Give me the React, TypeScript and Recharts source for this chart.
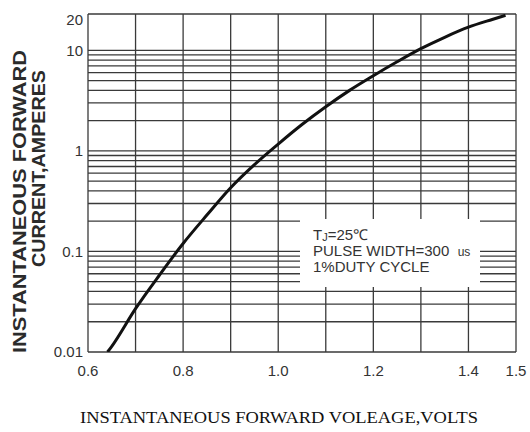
import { LineChart, Line, XAxis, YAxis, CartesianGrid, ReferenceLine } from "recharts";

// forward voltage (V) vs instantaneous forward current (A)
const voltage = [0.641, 0.65, 0.7, 0.75, 0.8, 0.85, 0.9, 0.95, 1.0, 1.05, 1.1, 1.15, 1.2, 1.25, 1.3, 1.35, 1.4, 1.45, 1.478];
const current = [0.01, 0.0114, 0.027, 0.058, 0.12, 0.23, 0.43, 0.73, 1.17, 1.83, 2.75, 4.0, 5.6, 7.7, 10.4, 13.5, 17.0, 20.3, 22.3];

const xTicks = [0.6, 0.8, 1.0, 1.2, 1.4, 1.5];
const xGrid = [0.6, 0.7, 0.8, 0.9, 1.0, 1.1, 1.2, 1.3, 1.4, 1.5];
const yTicks = [0.01, 0.1, 1, 10, 20];
const yGrid = [
  0.01, 0.02, 0.03, 0.04, 0.05, 0.06, 0.07, 0.08, 0.09,
  0.1, 0.2, 0.3, 0.4, 0.5, 0.6, 0.7, 0.8, 0.9,
  1, 2, 3, 4, 5, 6, 7, 8, 9, 10, 23,
];
const yDomain = [0.01, 23];

const data = voltage.map((v, idx) => ({ v, i: current[idx] }));

const sans = "'Liberation Sans', Arial, Helvetica, sans-serif";
const gridColor = "#3a3a3a";

const YTitle = () => (
  <g fill="#2b2b2b" fontFamily={sans} fontWeight="bold" fontSize={18}>
    <text
      x={19.5}
      y={201.5}
      dy="0.36em"
      textAnchor="middle"
      transform="rotate(-90, 19.5, 201.5)"
      textLength={303}
      lengthAdjust="spacingAndGlyphs"
    >
      INSTANTANEOUS FORWARD
    </text>
    <text
      x={39}
      y={168.5}
      dy="0.36em"
      textAnchor="middle"
      transform="rotate(-90, 39, 168.5)"
      textLength={197}
      lengthAdjust="spacingAndGlyphs"
    >
      CURRENT,AMPERES
    </text>
  </g>
);

const XTitle = () => (
  <text
    x={279}
    y={423}
    textAnchor="middle"
    fill="#111"
    fontFamily="'Liberation Serif', 'Times New Roman', serif"
    fontSize={17.5}
    textLength={398}
    lengthAdjust="spacingAndGlyphs"
  >
    INSTANTANEOUS FORWARD VOLEAGE,VOLTS
  </text>
);

export default function App() {
  return (
    <div style={{ position: "absolute", left: 0, top: 0, width: 530, height: 432, background: "#fff" }}>
      <LineChart
        width={530}
        height={432}
        data={data}
        margin={{ top: 14, right: 14, left: 0, bottom: 50 }}
      >
        <CartesianGrid
          horizontal={false}
          verticalValues={xGrid}
          stroke={gridColor}
          strokeWidth={1.3}
        />
        {yGrid.map((g) => (
          <ReferenceLine
            key={g}
            y={g}
            stroke={gridColor}
            strokeWidth={1.3}
            ifOverflow="extendDomain"
          />
        ))}
        <XAxis
          type="number"
          dataKey="v"
          domain={[0.6, 1.5]}
          ticks={xTicks}
          tickFormatter={(v: number) => v.toFixed(1)}
          axisLine={false}
          tickLine={false}
          tickSize={0}
          tickMargin={13}
          height={30}
          tick={{ fill: "#333", fontSize: 15, fontFamily: sans }}
          label={{ content: () => <XTitle /> }}
        />
        <YAxis
          type="number"
          scale="log"
          domain={yDomain}
          allowDataOverflow
          ticks={yTicks}
          tickFormatter={(v: number) => String(v)}
          axisLine={false}
          tickLine={false}
          tickSize={0}
          tickMargin={5}
          width={88}
          tick={{ fill: "#333", fontSize: 15, fontFamily: sans }}
          label={{ content: () => <YTitle /> }}
        />
        <Line
          type="monotone"
          dataKey="i"
          stroke="#111"
          strokeWidth={3}
          dot={false}
          isAnimationActive={false}
        />
      </LineChart>

      {/* note box, blanks out the grid behind it */}
      <div
        style={{
          position: "absolute",
          left: 300,
          top: 219,
          width: 180,
          height: 68,
          background: "#fff",
        }}
      />
      <div
        style={{
          position: "absolute",
          left: 313,
          top: 227.5,
          fontFamily: sans,
          fontSize: 15,
          lineHeight: "14.7px",
          color: "#333",
          whiteSpace: "pre",
        }}
      >
        <div>
          T<span style={{ fontSize: 11, verticalAlign: "-1px" }}>J</span>=25℃
        </div>
        <div>
          PULSE WIDTH=300  <span style={{ fontSize: 12 }}>us</span>
        </div>
        <div>1%DUTY CYCLE</div>
      </div>
    </div>
  );
}
